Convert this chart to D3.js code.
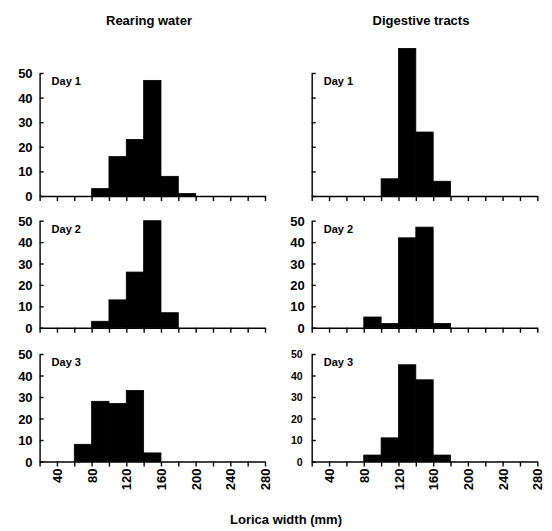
<!DOCTYPE html>
<html>
<head>
<meta charset="utf-8">
<script src="https://cdnjs.cloudflare.com/ajax/libs/d3/7.8.5/d3.min.js"></script>
<style>
  html, body { margin: 0; padding: 0; background: #fff; }
  svg { display: block; font-family: "Liberation Sans", Arial, Helvetica, sans-serif; font-weight: bold; }
</style>
</head>
<body>
<svg class="chart-hist" width="552" height="531"></svg>
<script>
// bin lower edges (mm), each bin is 20 wide
var binStarts = [60, 80, 100, 120, 140, 160, 180];
var binWidth = 20;

// counts
var rearingDay1 = [0, 3, 16, 23, 47, 8, 1];
var rearingDay2 = [0, 3, 13, 26, 50, 7, 0];
var rearingDay3 = [8, 28, 27, 33, 4, 0, 0];
var digestDay1  = [0, 0, 7, 60, 26, 6, 0];
var digestDay2  = [0, 5, 2, 42, 47, 2, 0];
var digestDay3  = [0, 3, 11, 45, 38, 3, 0];

var columnTitles = ["Rearing water", "Digestive tracts"];
var dayLabels = ["Day 1", "Day 2", "Day 3"];
var xTicks = [20, 40, 60, 80, 100, 120, 140, 160, 180, 200, 220, 240, 260, 280];
var xLabelTicks = [40, 80, 120, 160, 200, 240, 280];
var yTicks = [0, 10, 20, 30, 40, 50];
var xTitle = "Lorica width (mm)";

var columns = [
    { x1: 39.6, x2: 265, tx: 149, series: [rearingDay1, rearingDay2, rearingDay3] },
    { x1: 311.7, x2: 537.3, tx: 421, series: [digestDay1, digestDay2, digestDay3] }
];

var rows = [
    { y0: 196, y50: 73 },
    { y0: 327.7, y50: 220.7 },
    { y0: 461.5, y50: 354 }
];

var svg = d3.select("svg.chart-hist");

function drawPanel(col, ci, row, ri) {
    var counts = col.series[ri];
    var x = d3.scaleLinear().domain([20, 280]).range([col.x1, col.x2]);
    var y = d3.scaleLinear().domain([0, 50]).range([row.y0, row.y50]);

    var g = svg.append("g");

    // bars (thin black stroke so neighbours merge like the print)
    g.selectAll("rect.bar")
      .data(binStarts.map(function (b, i) { return { start: b, n: counts[i] }; })
                     .filter(function (d) { return d.n > 0; }))
      .enter()
      .append("rect")
      .attr("class", "bar")
      .attr("x", function (d) { return x(d.start); })
      .attr("width", function (d) { return x(d.start + binWidth) - x(d.start); })
      .attr("y", function (d) { return y(d.n); })
      .attr("height", function (d) { return y(0) - y(d.n); })
      .attr("fill", "#000")
      .attr("stroke", "#000")
      .attr("stroke-width", 0.8);

    // x axis, ticks down
    var isBottom = (ri == 2);
    var xAxis = d3.axisBottom(x)
        .tickValues(xTicks)
        .tickSize(5)
        .tickSizeOuter(0)
        .tickFormat(function (d) {
            return (isBottom && xLabelTicks.indexOf(d) >= 0) ? d : "";
        });

    var xg = g.append("g")
      .attr("transform", "translate(0," + row.y0 + ")")
      .call(xAxis);
    xg.select(".domain").attr("stroke-width", 1.4);
    xg.selectAll(".tick line").attr("stroke-width", 1.4);
    xg.selectAll(".tick text")
      .attr("font-family", "Liberation Sans, Arial, sans-serif")
      .attr("font-weight", "bold")
      .attr("font-size", 13)
      .attr("fill", "#000")
      .attr("transform", "rotate(-90)")
      .attr("text-anchor", "end")
      .attr("x", -7)
      .attr("y", 0)
      .attr("dy", "0.35em");

    // y axis, ticks pointing inward
    var showY = !(ci == 1 && ri == 0);
    var small = (ci == 1 && ri == 2);
    var yAxis = d3.axisRight(y)
        .tickValues(yTicks)
        .tickSize(4)
        .tickSizeOuter(0)
        .tickFormat(function (d) { return showY ? d : ""; });

    var yg = g.append("g")
      .attr("transform", "translate(" + col.x1 + ",0)")
      .call(yAxis);
    yg.select(".domain").attr("stroke-width", 1.4);
    yg.selectAll(".tick line").attr("stroke-width", 1.4);
    yg.selectAll(".tick text")
      .attr("font-family", "Liberation Sans, Arial, sans-serif")
      .attr("font-weight", "bold")
      .attr("font-size", small ? 10.5 : 13)
      .attr("fill", "#000")
      .attr("text-anchor", "end")
      .attr("x", small ? -9 : -7)
      .attr("dy", "0.35em");

    // day label
    g.append("text")
      .attr("x", col.x1 + 12)
      .attr("y", row.y50 + 8)
      .attr("dy", "0.35em")
      .attr("font-size", 11)
      .text(dayLabels[ri]);
}

columns.forEach(function (col, ci) {
    rows.forEach(function (row, ri) {
        drawPanel(col, ci, row, ri);
    });
    svg.append("text")
      .attr("x", col.tx)
      .attr("y", 20)
      .attr("dy", "0.35em")
      .attr("text-anchor", "middle")
      .attr("font-size", 13)
      .text(columnTitles[ci]);
});

svg.append("text")
  .attr("x", 286)
  .attr("y", 519)
  .attr("dy", "0.35em")
  .attr("text-anchor", "middle")
  .attr("font-size", 13)
  .text(xTitle);
</script>
</body>
</html>
